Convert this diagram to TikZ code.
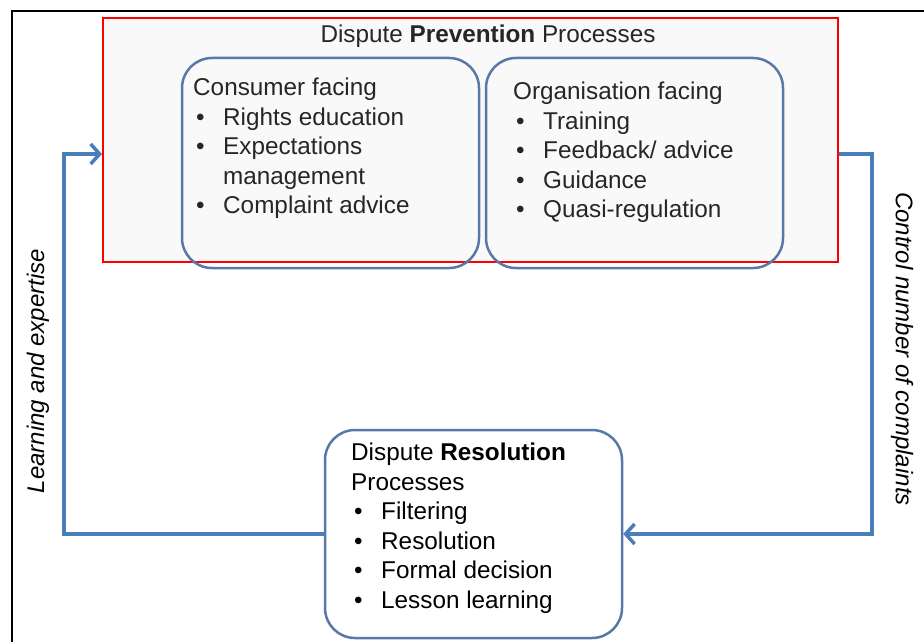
\documentclass[tikz,border=0pt]{standalone}
\usepackage{fontspec}
\setmainfont{Liberation Sans}
\usepackage{tikz}
\usetikzlibrary{shapes,arrows.meta}
\definecolor{boxblue}{RGB}{88,120,168}
\definecolor{flowblue}{RGB}{74,126,187}
\newcommand{\bitem}[1]{\makebox[30pt][l]{\hspace{3pt}\textbullet}#1}
\newcommand{\bcont}[1]{\hspace*{30pt}#1}

\begin{document}
\begin{tikzpicture}[x=1pt,y=-1pt]
  \tikzstyle{pbox}=[draw=boxblue,line width=2.5pt,rounded corners=30pt,minimum width=297pt,minimum height=210pt]
  \tikzstyle{txt}=[inner sep=0pt,anchor=north west,align=left,font=\fontsize{24.3}{29.5}\selectfont]
  \tikzstyle{flow}=[draw=flowblue,line width=3.5pt,-{Straight Barb[length=9pt,width=20pt]}]
  \tikzstyle{side}=[inner sep=0pt,font=\fontsize{24}{29}\selectfont\itshape]
  \useasboundingbox (0,0) rectangle (924,642);
  \draw[line width=2pt] (924,11) -- (12,11) -- (12,642);
  \node[draw=red,line width=2pt,fill=black!2.5,minimum width=735pt,minimum height=244pt] (prevention) at (470.5,140) {};
  \node[txt,anchor=base,text=black!85] (title) at (488,43) {Dispute \textbf{Prevention} Processes};
  \node[pbox] (consumer) at (330.5,163) {};
  \node[pbox] (organisation) at (634.5,163) {};
  \node[pbox,fill=white,minimum height=208pt] (resolution) at (473.5,534) {};
  \node[txt,text=black!85] (consumer text) at (193,78) {Consumer facing\\ \bitem{Rights education}\\ \bitem{Expectations}\\ \bcont{management}\\ \bitem{Complaint advice}};
  \node[txt,text=black!85] (organisation text) at (513,82) {Organisation facing\\ \bitem{Training}\\ \bitem{Feedback/ advice}\\ \bitem{Guidance}\\ \bitem{Quasi-regulation}};
  \node[txt] (resolution text) at (351,443) {Dispute \textbf{Resolution}\\ Processes\\ \bitem{Filtering}\\ \bitem{Resolution}\\ \bitem{Formal decision}\\ \bitem{Lesson learning}};
  \coordinate (lturn) at (64,154);
  \coordinate (rturn) at (872,154);
  \draw[flow] (resolution.west) -| (lturn) -- (lturn -| prevention.west);
  \draw[flow] (rturn -| prevention.east) -- (rturn) |- (resolution.east);
  \node[side,rotate=90] (learning) at (38,371) {Learning and expertise};
  \node[side,rotate=-90] (control) at (902,349) {Control number of complaints};
\end{tikzpicture}
\end{document}
